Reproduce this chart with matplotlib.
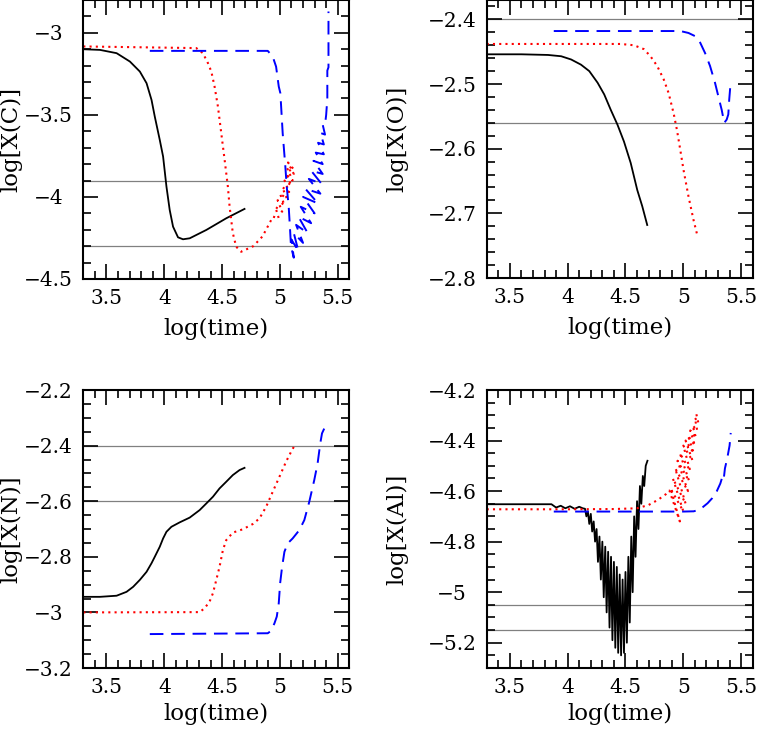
import matplotlib
matplotlib.use("Agg")
import matplotlib.pyplot as plt
from matplotlib.ticker import MultipleLocator, FuncFormatter

plt.rcParams['font.family'] = ['DejaVu Serif']
plt.rcParams['font.size'] = 16.5

# ---- log[X(C)] ----
c_black_t = [3.30, 3.444, 3.588, 3.703, 3.789, 3.847, 3.890, 3.918, 3.961, 3.990, 4.019, 4.047,
             4.076, 4.119, 4.162, 4.220, 4.364, 4.536, 4.694]
c_black_x = [-3.10, -3.104, -3.124, -3.175, -3.236, -3.307, -3.409, -3.510, -3.652, -3.754, -3.937,
             -4.079, -4.181, -4.246, -4.258, -4.252, -4.201, -4.130, -4.073]

c_red_t = [3.30, 4.277, 4.334, 4.378, 4.407, 4.435, 4.464, 4.493, 4.522, 4.550, 4.565, 4.593, 4.622,
           4.665, 4.77, 4.85, 4.91, 4.94,
           4.99, 4.96, 5.02, 4.98, 5.04, 5.00, 5.06, 5.02, 5.08, 5.04, 5.10, 5.05, 5.11, 5.06,
           5.12, 5.07, 5.13]
c_red_x = [-3.083, -3.093, -3.124, -3.185, -3.236, -3.327, -3.449, -3.612, -3.774, -3.937, -4.059,
           -4.221, -4.303, -4.334, -4.30, -4.24, -4.16, -4.12,
           -4.13, -4.06, -4.09, -4.02, -4.05, -3.98, -4.01, -3.94, -3.97, -3.90, -3.93, -3.86,
           -3.90, -3.82, -3.86, -3.79, -3.84]

c_blue_t = [3.875, 4.895, 4.938, 4.967, 4.990, 5.004, 5.024, 5.047, 5.059, 5.076, 5.088, 5.096,
            5.12, 5.10, 5.16, 5.12, 5.20, 5.14, 5.24, 5.16, 5.27, 5.18, 5.30, 5.20, 5.33, 5.22,
            5.35, 5.25, 5.36, 5.27, 5.37, 5.29, 5.37, 5.31, 5.38, 5.33, 5.38, 5.35, 5.39, 5.37,
            5.39, 5.40, 5.41, 5.41, 5.42, 5.42]
c_blue_x = [-3.11, -3.110, -3.145, -3.206, -3.327, -3.368, -3.612, -3.815, -3.937, -4.059, -4.201,
            -4.303, -4.37, -4.26, -4.33, -4.22, -4.28, -4.17, -4.22, -4.12, -4.16, -4.06, -4.10,
            -4.00, -4.04, -3.95, -3.98, -3.89, -3.92, -3.84, -3.86, -3.78, -3.80, -3.73, -3.74,
            -3.67, -3.68, -3.61, -3.62, -3.56, -3.56, -3.50, -3.40, -3.23, -3.21, -2.87]

# ---- log[X(O)] ----
o_black_t = [3.30, 3.60, 3.83, 3.944, 4.03, 4.115, 4.187, 4.259, 4.316, 4.373, 4.431, 4.487,
             4.545, 4.602, 4.645, 4.688]
o_black_x = [-2.454, -2.454, -2.455, -2.457, -2.462, -2.470, -2.480, -2.498, -2.516, -2.540, -2.563,
             -2.589, -2.622, -2.664, -2.689, -2.718]

o_red_t = [3.30, 4.459, 4.573, 4.659, 4.716, 4.774, 4.831, 4.873, 4.916, 4.945, 4.974, 5.002,
           5.045, 5.088, 5.117]
o_red_x = [-2.438, -2.438, -2.440, -2.446, -2.457, -2.472, -2.493, -2.514, -2.545, -2.571, -2.602,
           -2.633, -2.674, -2.710, -2.731]

o_blue_t = [3.88, 4.974, 5.045, 5.103, 5.146, 5.188, 5.231, 5.274, 5.303, 5.332, 5.354, 5.375,
            5.389, 5.397, 5.409]
o_blue_x = [-2.418, -2.418, -2.421, -2.426, -2.436, -2.452, -2.472, -2.498, -2.519, -2.540, -2.560,
            -2.555, -2.547, -2.524, -2.498]

# ---- log[X(N)] ----
n_black_t = [3.30, 3.444, 3.588, 3.674, 3.731, 3.789, 3.847, 3.890, 3.918, 3.961, 3.990, 4.019,
             4.062, 4.134, 4.220, 4.306, 4.364, 4.421, 4.478, 4.536, 4.593, 4.651, 4.694]
n_black_x = [-2.944, -2.944, -2.940, -2.926, -2.908, -2.883, -2.854, -2.823, -2.800, -2.764, -2.734,
             -2.710, -2.692, -2.676, -2.659, -2.632, -2.608, -2.584, -2.554, -2.530, -2.506, -2.488,
             -2.480]

n_red_t = [3.30, 4.306, 4.349, 4.392, 4.421, 4.450, 4.478, 4.507, 4.536, 4.593, 4.679, 4.766,
           4.823, 4.881, 4.938, 4.996, 5.053, 5.097, 5.125]
n_red_x = [-3.0, -2.999, -2.985, -2.961, -2.931, -2.883, -2.836, -2.776, -2.740, -2.713, -2.701,
           -2.682, -2.662, -2.620, -2.566, -2.512, -2.458, -2.422, -2.401]

n_blue_t = [3.875, 4.895, 4.924, 4.953, 4.973, 4.990, 5.002, 5.019, 5.039, 5.067, 5.110, 5.168,
            5.211, 5.254, 5.297, 5.326, 5.349, 5.364, 5.384, 5.427]
n_blue_x = [-3.078, -3.075, -3.066, -3.039, -3.015, -2.967, -2.895, -2.836, -2.782, -2.752, -2.734,
            -2.704, -2.668, -2.602, -2.524, -2.464, -2.392, -2.356, -2.338, -2.336]

# ---- log[X(Al)] ----
al_black_t = [3.30, 3.86, 3.90, 3.94, 3.98, 4.02, 4.06, 4.10, 4.13,
              4.150, 4.162, 4.175, 4.187, 4.200, 4.212, 4.225, 4.237, 4.250, 4.262, 4.275, 4.287,
              4.300, 4.312, 4.325, 4.337, 4.350, 4.362, 4.375, 4.387, 4.400, 4.412, 4.425, 4.437,
              4.450, 4.462, 4.475, 4.487, 4.500, 4.512, 4.525, 4.537, 4.550, 4.562, 4.575, 4.587,
              4.600, 4.612, 4.625, 4.637, 4.650, 4.662, 4.675, 4.690]
al_black_x = [-4.652, -4.652, -4.665, -4.658, -4.668, -4.660, -4.670, -4.662, -4.668,
              -4.67, -4.70, -4.68, -4.73, -4.69, -4.76, -4.72, -4.80, -4.75, -4.88, -4.78, -4.95,
              -4.80, -5.02, -4.82, -5.08, -4.84, -5.14, -4.86, -5.19, -4.88, -5.22, -4.90, -5.24,
              -4.93, -5.25, -4.95, -5.24, -4.92, -5.20, -4.86, -5.12, -4.78, -5.00, -4.70, -4.86,
              -4.64, -4.75, -4.58, -4.65, -4.54, -4.58, -4.50, -4.48]

al_red_t = [3.30, 4.00, 4.40, 4.60, 4.70, 4.78, 4.85, 4.88,
            4.97, 4.89, 5.00, 4.91, 5.02, 4.93, 5.04, 4.95, 5.05, 4.97, 5.06, 5.00, 5.08, 5.02,
            5.09, 5.04, 5.10, 5.06, 5.11, 5.08, 5.12, 5.10, 5.13, 5.11]
al_red_x = [-4.672, -4.672, -4.671, -4.668, -4.655, -4.635, -4.612, -4.598,
            -4.72, -4.59, -4.68, -4.55, -4.65, -4.51, -4.60, -4.48, -4.56, -4.45, -4.52, -4.42,
            -4.48, -4.40, -4.45, -4.38, -4.42, -4.36, -4.39, -4.34, -4.36, -4.31, -4.33, -4.29]

al_blue_t = [3.88, 5.00, 5.09, 5.13, 5.17, 5.21, 5.25, 5.29, 5.32, 5.34, 5.35, 5.36, 5.38, 5.40, 5.41]
al_blue_x = [-4.681, -4.681, -4.680, -4.675, -4.663, -4.648, -4.628, -4.60, -4.57, -4.54, -4.55,
             -4.51, -4.47, -4.42, -4.37]

# reference levels (grey lines)
c_refs = [-3.9, -4.3]
o_refs = [-2.4, -2.56]
n_refs = [-2.4, -2.6]
al_refs = [-5.05, -5.15]

W, H = 757, 732
fig = plt.figure(figsize=(W / 100, H / 100), dpi=100)


def fmt(v, pos):
    s = f"{v:g}"
    return s.replace('-', '\u2212')


def make_panel(left, top, bottom, ylim, ymaj, ymin, ylabel, refs, black, red, blue, ylab_x, xlab_y):
    ax = fig.add_axes([left / W, 1 - bottom / H, 266 / W, (bottom - top) / H])
    for y in refs:
        ax.axhline(y, color='#808080', lw=0.9, zorder=1)
    ax.plot(*black, color='black', lw=1.3)
    ax.plot(*red, color='red', lw=1.5, linestyle=(0, (1, 2)))
    ax.plot(*blue, color='blue', lw=1.4, dashes=(7, 4))
    ax.set_xlim(3.3, 5.6)
    ax.set_ylim(*ylim)
    ax.xaxis.set_major_locator(MultipleLocator(0.5))
    ax.xaxis.set_minor_locator(MultipleLocator(0.1))
    ax.yaxis.set_major_locator(MultipleLocator(ymaj))
    ax.yaxis.set_minor_locator(MultipleLocator(ymin))
    ax.xaxis.set_major_formatter(FuncFormatter(fmt))
    ax.yaxis.set_major_formatter(FuncFormatter(fmt))
    ax.tick_params(which='both', direction='in', top=True, right=True, width=1.2, labelsize=14.5)
    ax.tick_params(which='major', length=11)
    ax.tick_params(which='minor', length=6)
    ax.tick_params(axis='x', pad=7)
    ax.tick_params(axis='y', pad=25)
    for lab in ax.get_yticklabels():
        lab.set_horizontalalignment('center')
    for sp in ax.spines.values():
        sp.set_linewidth(1.5)
    ax.set_xlabel('log(time)')
    ax.set_ylabel(ylabel)
    ax.yaxis.set_label_coords(ylab_x, 0.5)
    ax.xaxis.set_label_coords(0.5, xlab_y)
    return ax


make_panel(83.3, 0, 279, (-4.5, -2.8), 0.5, 0.1, 'log[X(C)]', c_refs,
           (c_black_t, c_black_x), (c_red_t, c_red_x), (c_blue_t, c_blue_x), -0.23, -0.14)
make_panel(486.7, 0, 278, (-2.8, -2.37), 0.1, 0.02, 'log[X(O)]', o_refs,
           (o_black_t, o_black_x), (o_red_t, o_red_x), (o_blue_t, o_blue_x), -0.296, -0.14)
make_panel(83.3, 390, 668, (-3.2, -2.2), 0.2, 0.05, 'log[X(N)]', n_refs,
           (n_black_t, n_black_x), (n_red_t, n_red_x), (n_blue_t, n_blue_x), -0.23, -0.126)
make_panel(486.7, 390, 668, (-5.3, -4.2), 0.2, 0.05, 'log[X(Al)]', al_refs,
           (al_black_t, al_black_x), (al_red_t, al_red_x), (al_blue_t, al_blue_x), -0.296, -0.126)

fig.savefig('out.png', dpi=100)
